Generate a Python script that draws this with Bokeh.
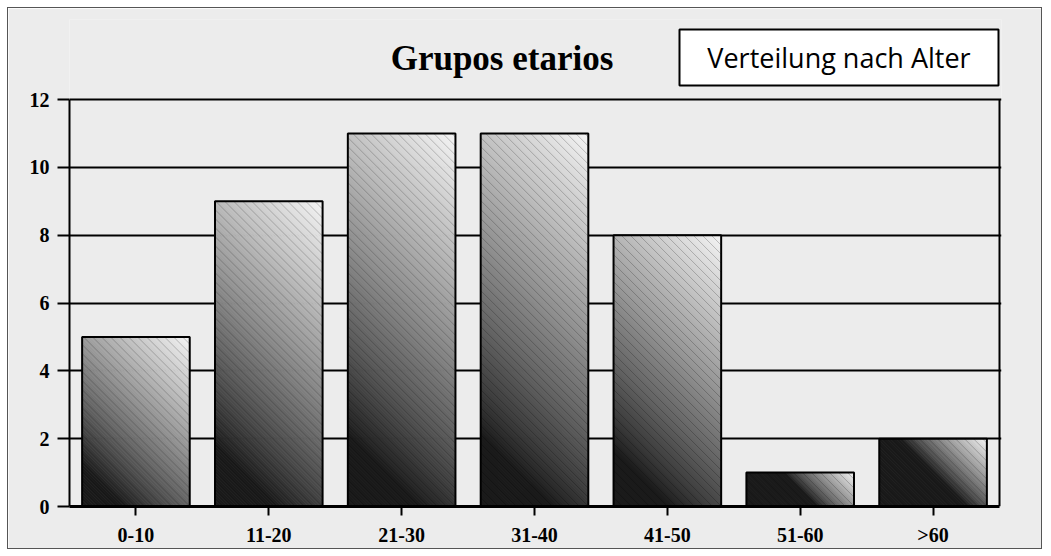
import numpy as np
from bokeh.plotting import figure
from bokeh.models import FixedTicker, ColumnDataSource
from bokeh.core.properties import value
from bokeh.embed import file_html
from bokeh.resources import INLINE

# ---- data ----
categories = ["0-10", "11-20", "21-30", "31-40", "41-50", "51-60", ">60"]
counts = [5, 9, 11, 11, 8, 1, 2]
y_ticks = [0, 2, 4, 6, 8, 10, 12]
title_text = "Grupos etarios"
box_text = "Verteilung nach Alter"

# ---- layout constants ----
BG = "#ececec"
X_MAX, Y_MAX = len(categories), 12
PLOT_W, PLOT_H = 930, 407          # pixel size of the value area (0..7, 0..12)
SX = PLOT_W / X_MAX
SY = PLOT_H / Y_MAX
EXTRA_TOP = 80                      # px of frame above y=12 (title zone)
EXTRA_RIGHT = 2
FRAME_W, FRAME_H = PLOT_W + EXTRA_RIGHT, PLOT_H + EXTRA_TOP
BAR_W = 0.81
FRAME_LEFT_IMG, FRAME_BOTTOM_IMG = 70, 507


def img_to_data(xi, yi):
    return (xi - FRAME_LEFT_IMG) / SX, (FRAME_BOTTOM_IMG - yi) / SY


p = figure(frame_width=FRAME_W, frame_height=FRAME_H,
           x_range=(0, X_MAX + EXTRA_RIGHT / SX),
           y_range=(0, Y_MAX + EXTRA_TOP / SY),
           output_backend="svg", toolbar_location=None,
           min_border_left=61, min_border_right=40,
           min_border_top=11, min_border_bottom=40,
           background_fill_color=BG, border_fill_color=BG,
           outline_line_color=None)
p.styles = {"border": "1px solid #555555", "margin": "7px 0px 0px 7px"}


def clip(poly, a, b, c):
    """keep a*x + b*y >= c"""
    out = []
    n = len(poly)
    for i in range(n):
        P = poly[i]
        Q = poly[(i + 1) % n]
        fp = a * P[0] + b * P[1] - c
        fq = a * Q[0] + b * Q[1] - c
        if fp >= 0:
            out.append(P)
        if (fp >= 0) != (fq >= 0):
            t = fp / (fp - fq)
            out.append((P[0] + t * (Q[0] - P[0]), P[1] + t * (Q[1] - P[1])))
    return out


band_xs, band_ys, band_cols = [], [], []
hatch_xs, hatch_ys = [], []
STEP = 3.0
HATCH = 9.0
for i, v in enumerate(counts):
    left = i + 0.5 - BAR_W / 2
    w = BAR_W * SX
    h = v * SY
    tot = w + h
    t0 = 0.5 if h < w else 0.15
    rect = [(0, 0), (w, 0), (w, h), (0, h)]
    u = 0.0
    while u < tot:
        poly = clip(clip(rect, 1, 1, u), -1, -1, -(u + STEP + 0.8))
        if len(poly) >= 3:
            tm = min(1.0, (u + STEP / 2) / tot)
            if tm < t0:
                g = 0.10
            else:
                g = 0.10 + ((tm - t0) / (1 - t0)) ** 0.85 * 0.86
            c = int(round(g * 255))
            band_cols.append("#%02x%02x%02x" % (c, c, c))
            band_xs.append([left + px / SX for px, py in poly])
            band_ys.append([py / SY for px, py in poly])
        u += STEP
    u = HATCH
    while u < tot:
        x0 = max(0.0, u - h)
        x1 = min(w, u)
        hatch_xs.append([left + x0 / SX, left + x1 / SX])
        hatch_ys.append([(u - x0) / SY, (u - x1) / SY])
        u += HATCH

# right border of the value area
p.segment(x0=[X_MAX], y0=[0], x1=[X_MAX], y1=[Y_MAX], line_color="black", line_width=2)

p.patches(band_xs, band_ys, fill_color=band_cols, line_color=None)
p.multi_line(hatch_xs, hatch_ys, line_color="black", line_alpha=0.22, line_width=1)

src = ColumnDataSource(dict(x=[i + 0.5 for i in range(len(categories))], top=counts))
p.vbar(x="x", top="top", width=BAR_W, bottom=0, source=src,
       fill_alpha=0, line_color="black", line_width=2)

# ---- axes ----
p.xaxis.ticker = FixedTicker(ticks=[i + 0.5 for i in range(len(categories))])
p.xaxis.major_label_overrides = {i + 0.5: c for i, c in enumerate(categories)}
p.xaxis.bounds = (0, X_MAX)
p.yaxis.ticker = FixedTicker(ticks=y_ticks)
p.yaxis.bounds = (0, Y_MAX)
for ax in (p.xaxis, p.yaxis):
    ax.major_label_text_font = "Liberation Serif"
    ax.major_label_text_font_style = "bold"
    ax.major_label_text_font_size = "20px"
    ax.major_label_text_color = "black"
    ax.axis_line_color = "black"
    ax.major_tick_line_color = "black"
    ax.major_tick_line_width = 2
    ax.major_tick_in = 0
    ax.minor_tick_out = 0
    ax.minor_tick_in = 0
p.yaxis.axis_line_width = 2
p.yaxis.major_tick_out = 12
p.yaxis.major_label_standoff = 8
p.xaxis.axis_line_width = 3
p.xaxis.major_tick_out = 9
p.xaxis.major_label_standoff = 8

p.xgrid.grid_line_color = None
p.ygrid.grid_line_color = "black"
p.ygrid.grid_line_width = 2
p.ygrid.ticker = FixedTicker(ticks=y_ticks)

# ---- title ----
tx, ty = img_to_data(502.5, 58.5)
p.text(x=[tx], y=[ty], text=[title_text], text_align="center",
       text_baseline="alphabetic", text_font=value("Liberation Serif"),
       text_font_style="bold", text_font_size=value("35px"), text_color="black")

# ---- box with caption ----
bl, bt = img_to_data(680, 30)
br, bb = img_to_data(999, 86)
p.quad(left=[bl], right=[br], top=[bt], bottom=[bb],
       fill_color="white", line_color="black", line_width=2)
p.text(x=[(bl + br) / 2], y=[(bt + bb) / 2], text=[box_text], text_align="center",
       text_baseline="middle", text_font=value("Open Sans"),
       text_font_size=value("27px"), text_color="black")

open("out.html", "w").write(file_html(p, INLINE))
